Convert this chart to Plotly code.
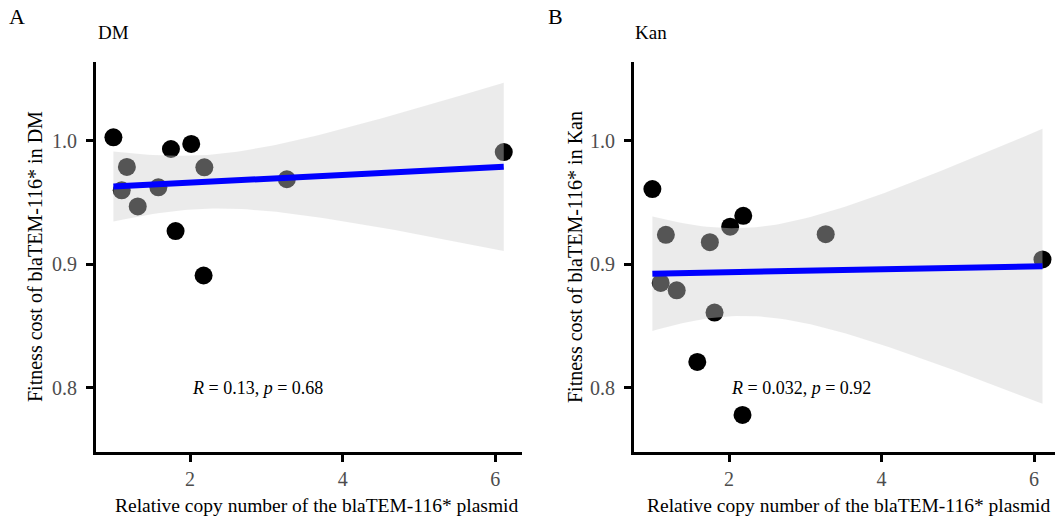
import numpy as np
import plotly.graph_objects as go

# ---- data ----
copy_number = [0.995, 1.172, 1.104, 1.314, 1.584, 1.749, 2.015, 2.187, 1.810, 2.177, 3.268, 6.111]
fitness_dm = [1.003, 0.979, 0.960, 0.947, 0.9625, 0.9935, 0.9976, 0.9787, 0.927, 0.891, 0.969, 0.991]
fitness_kan = [0.961, 0.924, 0.885, 0.879, 0.821, 0.918, 0.9306, 0.9394, 0.861, 0.778, 0.9245, 0.904]
x_ticks = [2, 4, 6]
y_ticks = [0.8, 0.9, 1.0]
y_tick_labels = ["0.8", "0.9", "1.0"]
panel_titles = ["DM", "Kan"]
panel_tags = ["A", "B"]
cor_labels = ["<i>R</i> = 0.13, <i>p</i> = 0.68", "<i>R</i> = 0.032, <i>p</i> = 0.92"]
cor_label_pos = (2.0, 0.80)
x_title = "Relative copy number of the blaTEM-116* plasmid"
y_titles = ["Fitness cost of blaTEM-116* in DM", "Fitness cost of blaTEM-116* in Kan"]

FONT = "Liberation Serif"
W, H = 1055, 517
T_PX, B_PX = 62, 452


def lm_band(x, y, n=80, tq=2.228):
    x = np.asarray(x, float)
    y = np.asarray(y, float)
    b1, b0 = np.polyfit(x, y, 1)
    g = np.linspace(x.min(), x.max(), n)
    fit = b0 + b1 * g
    resid = y - (b0 + b1 * x)
    s = np.sqrt(np.sum(resid ** 2) / (len(x) - 2))
    sxx = np.sum((x - x.mean()) ** 2)
    se = s * np.sqrt(1.0 / len(x) + (g - x.mean()) ** 2 / sxx)
    return g, fit, fit - tq * se, fit + tq * se


fig = go.Figure()
for i, yvals in enumerate([fitness_dm, fitness_kan]):
    xa = "x" if i == 0 else "x2"
    ya = "y" if i == 0 else "y2"
    fig.add_trace(go.Scatter(x=copy_number, y=yvals, mode="markers",
                             marker=dict(color="black", size=18),
                             xaxis=xa, yaxis=ya, showlegend=False, hoverinfo="skip"))
    g, fit, lo, hi = lm_band(copy_number, yvals)
    fig.add_trace(go.Scatter(x=np.concatenate([g, g[::-1]]),
                             y=np.concatenate([hi, lo[::-1]]),
                             mode="lines", fill="toself",
                             fillcolor="rgba(206,206,206,0.41)",
                             line=dict(width=0), xaxis=xa, yaxis=ya,
                             showlegend=False, hoverinfo="skip"))
    fig.add_trace(go.Scatter(x=g, y=fit, mode="lines",
                             line=dict(color="#0000ff", width=6),
                             xaxis=xa, yaxis=ya, showlegend=False, hoverinfo="skip"))

axis_common = dict(showline=True, linecolor="black", linewidth=3,
                   ticks="outside", ticklen=7, tickwidth=3, tickcolor="black",
                   showgrid=False, zeroline=False,
                   tickfont=dict(family=FONT, size=20, color="#4d4d4d"))

fig.update_layout(
    width=W, height=H,
    margin=dict(l=0, r=0, t=T_PX, b=H - B_PX, pad=0),
    paper_bgcolor="white", plot_bgcolor="white",
    xaxis=dict(domain=[96 / W, 522 / W], range=[0.767, 6.35], tickvals=x_ticks,
               anchor="y", **axis_common),
    yaxis=dict(domain=[0, 1], range=[0.748, 1.064], tickvals=y_ticks,
               ticktext=y_tick_labels, anchor="x", ticklabelstandoff=5, **axis_common),
    xaxis2=dict(domain=[634 / W, 1.0], range=[0.754, 6.275], tickvals=x_ticks,
                anchor="y2", **axis_common),
    yaxis2=dict(domain=[0, 1], range=[0.748, 1.064], tickvals=y_ticks,
                ticktext=y_tick_labels, anchor="x2", ticklabelstandoff=5, **axis_common),
)


def py(p):
    return (B_PX - p) / (B_PX - T_PX)


ann = []
tag_x = [17, 555]
title_x = [96, 633]
ytitle_x = [35, 575]
xtitle_x = [316.5, 849]
for i in range(2):
    ann.append(dict(text=panel_tags[i], x=tag_x[i] / W, y=py(17), xref="paper", yref="paper",
                    showarrow=False, xanchor="center", yanchor="middle",
                    font=dict(family=FONT, size=22, color="black")))
    ann.append(dict(text=panel_titles[i], x=title_x[i] / W, y=py(32), xref="paper", yref="paper",
                    showarrow=False, xanchor="left", yanchor="middle",
                    font=dict(family=FONT, size=19, color="black")))
    ann.append(dict(text=y_titles[i], x=ytitle_x[i] / W, y=py(257), xref="paper", yref="paper",
                    showarrow=False, xanchor="center", yanchor="middle", textangle=-90,
                    font=dict(family=FONT, size=20, color="black")))
    ann.append(dict(text=x_title, x=xtitle_x[i] / W, y=py(505), xref="paper", yref="paper",
                    showarrow=False, xanchor="center", yanchor="middle",
                    font=dict(family=FONT, size=19.5, color="black")))
    ann.append(dict(text=cor_labels[i], x=cor_label_pos[0], y=cor_label_pos[1],
                    xref="x" if i == 0 else "x2", yref="y" if i == 0 else "y2",
                    showarrow=False, xanchor="left", yanchor="middle",
                    font=dict(family=FONT, size=18, color="black")))
fig.update_layout(annotations=ann)

fig.write_html("out.html")
